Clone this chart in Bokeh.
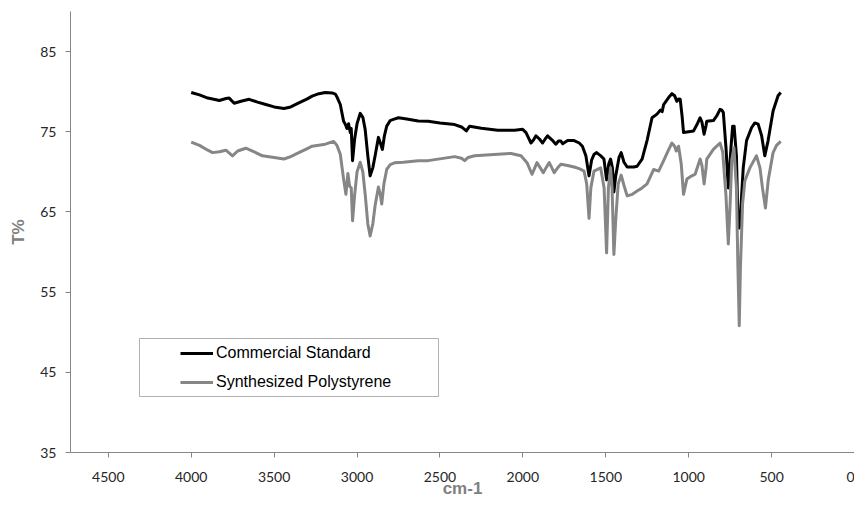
from bokeh.plotting import figure
from bokeh.models import Range1d, FixedTicker, Legend, LegendItem, BoxAnnotation
from bokeh.embed import file_html
from bokeh.resources import INLINE

# ---- data ----
commercial_wn = [4000, 3950, 3900, 3850, 3831, 3790, 3771, 3741, 3700, 3651, 3600, 3550, 3500, 3441,
                 3400, 3351, 3300, 3271, 3230, 3191, 3150, 3131, 3120, 3101, 3081, 3070, 3061, 3051,
                 3041, 3035, 3027, 3015, 3000, 2981, 2965, 2951, 2935, 2921, 2905, 2891, 2871, 2858,
                 2847, 2835, 2821, 2800, 2781, 2750, 2700, 2631, 2571, 2500, 2411, 2370, 2341, 2321,
                 2250, 2151, 2050, 2001, 1981, 1951, 1935, 1921, 1900, 1881, 1865, 1851, 1825, 1801,
                 1785, 1771, 1760, 1730, 1691, 1660, 1641, 1620, 1601, 1585, 1570, 1555, 1530, 1511,
                 1495, 1482, 1471, 1460, 1451, 1440, 1420, 1407, 1390, 1371, 1331, 1311, 1281, 1250,
                 1221, 1191, 1171, 1160, 1151, 1120, 1101, 1085, 1071, 1061, 1051, 1040, 1031, 1000,
                 971, 950, 931, 920, 907, 895, 891, 851, 830, 811, 800, 791, 775, 761, 745, 735, 726,
                 712, 703, 695, 688, 671, 651, 621, 601, 581, 560, 541, 521, 491, 461, 445]
commercial_t = [79.9, 79.6, 79.2, 79.0, 78.9, 79.15, 79.2, 78.55, 78.8, 79.05, 78.7, 78.4, 78.1, 77.9,
                78.1, 78.6, 79.1, 79.45, 79.75, 79.9, 79.85, 79.7, 79.3, 78.4, 76.3, 75.9, 75.4, 76.0,
                74.9, 75.4, 71.4, 74.0, 76.0, 77.3, 76.8, 75.3, 72.0, 69.5, 70.5, 72.0, 74.3, 73.5,
                72.8, 74.5, 75.7, 76.4, 76.55, 76.75, 76.6, 76.35, 76.3, 76.1, 75.9, 75.6, 75.1, 75.7,
                75.45, 75.2, 75.2, 75.3, 74.9, 73.6, 74.0, 74.5, 74.1, 73.6, 74.1, 74.5, 74.0, 73.45,
                73.85, 73.85, 73.5, 73.9, 73.9, 73.6, 73.2, 72.0, 69.5, 71.5, 72.2, 72.4, 72.0, 71.6,
                69.0, 71.0, 71.6, 70.5, 67.5, 69.5, 71.8, 72.4, 71.2, 70.6, 70.6, 70.7, 71.6, 74.0,
                76.75, 77.2, 77.7, 77.5, 78.4, 79.3, 79.75, 79.5, 78.8, 79.1, 79.05, 77.0, 74.9, 75.0,
                75.1, 75.9, 76.75, 76.2, 74.7, 75.8, 76.3, 76.4, 77.0, 77.8, 77.7, 77.4, 73.0, 68.0,
                73.0, 75.7, 75.7, 72.0, 64.0, 63.0, 64.5, 70.5, 73.9, 75.5, 76.1, 75.95, 74.5, 72.0,
                73.9, 77.6, 79.5, 79.9]

synth_wn = [4000, 3950, 3900, 3871, 3830, 3791, 3751, 3720, 3671, 3620, 3571, 3500, 3441, 3400, 3351,
            3300, 3271, 3191, 3141, 3121, 3101, 3081, 3067, 3055, 3045, 3035, 3027, 3015, 3000, 2981,
            2965, 2950, 2935, 2921, 2905, 2891, 2871, 2860, 2851, 2838, 2821, 2800, 2771, 2721, 2631,
            2571, 2411, 2370, 2351, 2330, 2291, 2150, 2071, 2011, 1975, 1945, 1930, 1915, 1895, 1877,
            1860, 1841, 1825, 1811, 1790, 1771, 1730, 1691, 1660, 1631, 1615, 1601, 1590, 1571, 1531,
            1510, 1495, 1484, 1471, 1462, 1451, 1440, 1425, 1407, 1390, 1371, 1340, 1311, 1281, 1251,
            1211, 1181, 1151, 1120, 1101, 1085, 1075, 1061, 1045, 1031, 1011, 990, 961, 931, 920, 907,
            895, 891, 851, 811, 795, 775, 761, 750, 740, 727, 712, 703, 695, 688, 675, 661, 631, 591,
            570, 555, 537, 520, 491, 470, 445]
synth_t = [73.7, 73.3, 72.7, 72.4, 72.5, 72.7, 72.0, 72.6, 72.95, 72.5, 72.0, 71.8, 71.6, 71.9, 72.4,
           72.9, 73.2, 73.45, 73.8, 73.3, 72.2, 69.1, 67.2, 69.8, 68.2, 68.0, 63.9, 67.0, 70.0, 71.2,
           70.0, 67.0, 63.5, 62.0, 63.5, 65.8, 68.1, 67.2, 66.0, 68.5, 70.3, 70.9, 71.15, 71.2, 71.4,
           71.4, 71.9, 71.7, 71.4, 71.8, 72.0, 72.2, 72.3, 72.0, 71.15, 69.7, 70.4, 71.15, 70.5, 69.9,
           70.5, 71.15, 70.5, 69.9, 70.5, 70.95, 70.8, 70.6, 70.4, 70.1, 68.5, 64.2, 68.0, 70.1, 70.5,
           68.0, 59.9, 68.0, 70.5, 68.0, 59.7, 64.0, 68.5, 69.6, 68.3, 67.0, 67.2, 67.6, 68.0, 68.5,
           70.3, 70.1, 71.4, 72.8, 73.6, 73.2, 72.6, 73.2, 71.0, 67.2, 69.1, 69.4, 69.7, 71.6, 70.8, 68.5,
           70.5, 71.6, 72.8, 73.6, 72.5, 67.0, 61.0, 66.0, 71.5, 73.0, 68.0, 58.0, 50.8, 58.0, 66.0, 68.9,
           70.5, 72.0, 70.5, 68.0, 65.5, 69.0, 72.4, 73.3, 73.8]

x_ticks = [0, 500, 1000, 1500, 2000, 2500, 3000, 3500, 4000, 4500]
y_ticks = [35, 45, 55, 65, 75, 85]
series_names = ["Commercial Standard", "Synthesized Polystyrene"]
series_colors = ["#000000", "#868686"]

# ---- figure ----
p = figure(width=854, height=502, output_backend="svg", toolbar_location=None,
           x_range=Range1d(4728, 0), y_range=Range1d(35, 90),
           min_border_left=70, min_border_right=0, min_border_top=11, min_border_bottom=50)
p.outline_line_color = None
p.xgrid.visible = False
p.ygrid.visible = False
p.background_fill_color = "white"

r1 = p.line(commercial_wn, commercial_t, line_color=series_colors[0], line_width=3, line_join="round")
r2 = p.line(synth_wn, synth_t, line_color=series_colors[1], line_width=3, line_join="round")

for ax in (p.xaxis[0], p.yaxis[0]):
    ax.axis_line_color = "#868686"
    ax.major_tick_line_color = "#868686"
    ax.major_tick_out = 5
    ax.major_tick_in = 0
    ax.minor_tick_line_color = None
    ax.major_label_text_font = "Lato"
    ax.major_label_text_font_size = "14px"
    ax.major_label_text_color = "#262626"
    ax.axis_label_text_font = "Liberation Sans"
    ax.axis_label_text_font_style = "bold"
    ax.axis_label_text_font_size = "17px"
    ax.axis_label_text_color = "#808080"

p.xaxis.ticker = FixedTicker(ticks=x_ticks)
p.yaxis.ticker = FixedTicker(ticks=y_ticks)
p.xaxis.axis_label = "cm-1"
p.yaxis.axis_label = "T%"
p.xaxis.major_label_standoff = 14
p.xaxis.axis_label_standoff = -6
p.yaxis.major_label_standoff = 9
p.yaxis.axis_label_standoff = 9

box = BoxAnnotation(left=139, right=438, top=338, bottom=396,
                    left_units="canvas", right_units="canvas", top_units="canvas", bottom_units="canvas",
                    fill_alpha=0, line_color="black", line_width=1)
p.add_layout(box)

legend = Legend(items=[LegendItem(label=series_names[0], renderers=[r1]),
                       LegendItem(label=series_names[1], renderers=[r2])],
                location=(110, 60), padding=0, spacing=9, glyph_width=33, glyph_height=20,
                label_height=20, label_standoff=3, border_line_alpha=0, background_fill_alpha=0,
                label_text_font="Liberation Sans", label_text_font_size="16px",
                label_text_color="black")
p.add_layout(legend, "center")

open("out.html", "w").write(file_html(p, INLINE))
